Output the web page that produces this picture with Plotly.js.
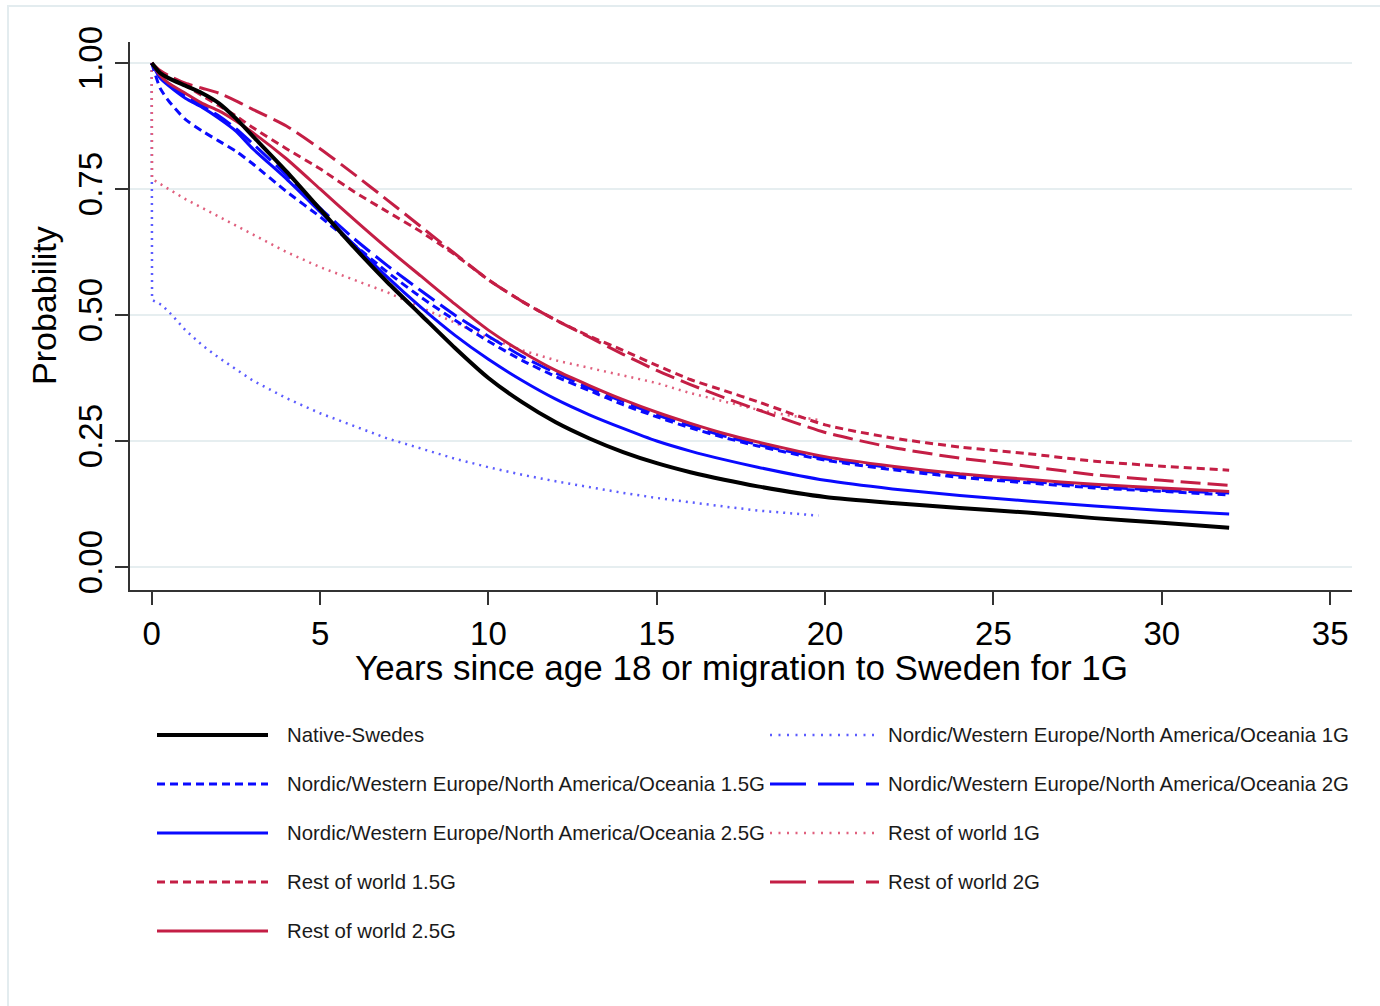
<!DOCTYPE html>
<html>
<head>
<meta charset="utf-8">
<script src="https://cdn.plot.ly/plotly-3.0.1.min.js"></script>
<style>
html,body{margin:0;padding:0;background:#fff;}
#chart{width:1380px;height:1006px;}
</style>
</head>
<body>
<div id="chart"></div>
<script>
// ---------------- DATA ----------------
const seriesNames = [
  "Native-Swedes",
  "Nordic/Western Europe/North America/Oceania 1G",
  "Nordic/Western Europe/North America/Oceania 1.5G",
  "Nordic/Western Europe/North America/Oceania 2G",
  "Nordic/Western Europe/North America/Oceania 2.5G",
  "Rest of world 1G",
  "Rest of world 1.5G",
  "Rest of world 2G",
  "Rest of world 2.5G"
];

const years = [0,0.25,0.5,1,1.5,2,2.5,3,4,5,6,7,8,9,10,11,12,13,14,15,16,17,18,20,22,24,26,28,30,32];

const nativeSwedes = [1.0,0.98,0.97,0.955,0.94,0.92,0.89,0.855,0.785,0.71,0.635,0.565,0.5,0.435,0.375,0.327,0.287,0.255,0.228,0.206,0.188,0.173,0.16,0.139,0.127,0.117,0.108,0.097,0.088,0.078];
const nordic15G = [1.0,0.95,0.925,0.888,0.865,0.845,0.825,0.8,0.745,0.695,0.64,0.585,0.535,0.49,0.448,0.41,0.378,0.35,0.322,0.298,0.276,0.257,0.24,0.212,0.193,0.178,0.167,0.157,0.15,0.143];
const nordic2G = [1.0,0.975,0.96,0.935,0.915,0.895,0.87,0.84,0.778,0.712,0.652,0.598,0.548,0.5,0.458,0.418,0.385,0.355,0.328,0.302,0.28,0.26,0.243,0.215,0.197,0.182,0.17,0.16,0.152,0.147];
const nordic25G = [1.0,0.97,0.955,0.93,0.912,0.89,0.865,0.83,0.77,0.705,0.64,0.575,0.515,0.46,0.412,0.37,0.333,0.302,0.275,0.25,0.23,0.213,0.198,0.172,0.155,0.142,0.131,0.121,0.112,0.105];
const rest15G = [1.0,0.98,0.97,0.955,0.935,0.915,0.895,0.872,0.83,0.79,0.745,0.705,0.665,0.62,0.57,0.527,0.49,0.458,0.43,0.4,0.372,0.35,0.328,0.282,0.256,0.238,0.225,0.21,0.2,0.192];
const rest2G = [1.0,0.985,0.975,0.96,0.95,0.94,0.925,0.908,0.875,0.83,0.78,0.728,0.675,0.622,0.57,0.527,0.49,0.456,0.422,0.39,0.362,0.336,0.312,0.267,0.237,0.216,0.2,0.183,0.172,0.162];
const rest25G = [1.0,0.975,0.96,0.94,0.92,0.905,0.885,0.862,0.81,0.75,0.69,0.632,0.577,0.522,0.47,0.427,0.39,0.36,0.332,0.307,0.285,0.265,0.248,0.219,0.2,0.185,0.174,0.164,0.157,0.15];

const years1G_nordic = [0,0.01,0.3,0.6,1,1.5,2,3,4,5,6,7,8,9,10,11,12,13,14,15,16,17,18,19,19.8];
const nordic1G = [1.0,0.53,0.52,0.5,0.47,0.44,0.415,0.37,0.335,0.305,0.28,0.255,0.235,0.215,0.198,0.183,0.17,0.158,0.147,0.137,0.128,0.12,0.112,0.106,0.102];

const years1G_rest = [0,0.01,0.5,1,2,3,4,5,6,7,8,9,10,11,12,13,14,15,16,17,18,19,19.8];
const rest1G = [1.0,0.77,0.75,0.73,0.695,0.66,0.625,0.595,0.57,0.545,0.515,0.485,0.455,0.43,0.41,0.395,0.38,0.365,0.345,0.328,0.312,0.3,0.292];

const yTickVals = [0,0.25,0.5,0.75,1];
const yTickText = ["0.00","0.25","0.50","0.75","1.00"];
const xTickVals = [0,5,10,15,20,25,30,35];
const xTitle = "Years since age 18 or migration to Sweden for 1G";
const yTitle = "Probability";

// ---------------- STYLES ----------------
const BLUE = "#0a0aff", RED = "#c41e45", BLACK = "#000000";
const BLUE_DOT = "#5c5cff", RED_DOT = "#e0607e";

const seriesX = [years, years1G_nordic, years, years, years, years1G_rest, years, years, years];
const seriesY = [nativeSwedes, nordic1G, nordic15G, nordic2G, nordic25G, rest1G, rest15G, rest2G, rest25G];
const styles = [
  {color:BLACK, width:4,   dash:"solid",     ldash:"solid",     shape:"spline"},
  {color:BLUE_DOT, width:2.5, dash:"2px,5px", ldash:"2px,6.5px", shape:"linear"},
  {color:BLUE, width:3,   dash:"8px,5px",   ldash:"8px,5px",   shape:"spline"},
  {color:BLUE, width:3,   dash:"20px,7px",  ldash:"36px,12px", shape:"spline"},
  {color:BLUE, width:3,   dash:"solid",     ldash:"solid",     shape:"spline"},
  {color:RED_DOT, width:2.5, dash:"2px,5px", ldash:"2px,6.5px", shape:"linear"},
  {color:RED, width:3,    dash:"8px,5px",   ldash:"8px,5px",   shape:"spline"},
  {color:RED, width:3,    dash:"20px,7px",  ldash:"36px,12px", shape:"spline"},
  {color:RED, width:3,    dash:"solid",     ldash:"solid",     shape:"spline"}
];

// draw order: dotted first, then others, black last
const drawOrder = [1,5,2,3,4,6,7,8,0];
const traces = drawOrder.map(i => ({
  type:"scatter", mode:"lines", name:seriesNames[i],
  x:seriesX[i], y:seriesY[i],
  line:{color:styles[i].color, width:styles[i].width, dash:styles[i].dash, shape:styles[i].shape, smoothing:0.6},
  showlegend:false, hoverinfo:"skip"
}));

// ---------------- LAYOUT ----------------
const L = 130, R = 1352, T = 42, B = 590;
const W = R - L, H = B - T;
const pxX = p => (p - L) / W;
const pxY = p => (B - p) / H;

const FONT = "Liberation Sans, Arial, Helvetica, sans-serif";

const shapes = [
  // outer graph-region frame
  {type:"rect", xref:"paper", yref:"paper", x0:pxX(8), x1:pxX(1400), y0:pxY(6), y1:pxY(1030),
   line:{color:"#e3ecef", width:2}, fillcolor:"rgba(0,0,0,0)", layer:"below"}
];
const annotations = [
  {xref:"paper", yref:"paper", x:pxX(741), y:pxY(667), text:xTitle, showarrow:false,
   xanchor:"center", yanchor:"middle", font:{family:FONT, size:35, color:"#000"}},
  {xref:"paper", yref:"paper", x:pxX(44), y:pxY(305), text:yTitle, showarrow:false, textangle:-90,
   xanchor:"center", yanchor:"middle", font:{family:FONT, size:34, color:"#000"}}
];

// custom legend, two columns, row-major
seriesNames.forEach((nm, i) => {
  const col = i % 2, row = Math.floor(i / 2);
  const yc = 735 + row * 49;
  const x0 = col === 0 ? 157 : 770;
  const x1 = col === 0 ? 268 : 879;
  const tx = col === 0 ? 285 : 886;
  shapes.push({type:"line", xref:"paper", yref:"paper", x0:pxX(x0), x1:pxX(x1), y0:pxY(yc), y1:pxY(yc),
    line:{color:styles[i].color, width:styles[i].width, dash:styles[i].ldash}});
  annotations.push({xref:"paper", yref:"paper", x:pxX(tx), y:pxY(yc), text:nm, showarrow:false,
    xanchor:"left", yanchor:"middle", font:{family:FONT, size:20.4, color:"#1a1a1a"}});
});

const layout = {
  width:1380, height:1006,
  margin:{l:L, r:1380 - R, t:T, b:1006 - B, pad:0},
  paper_bgcolor:"#ffffff", plot_bgcolor:"#ffffff",
  font:{family:FONT, color:"#000"},
  showlegend:false,
  xaxis:{
    range:[(L - 151.7) / 33.67, (R - 151.7) / 33.67],
    tickmode:"array", tickvals:xTickVals,
    ticks:"outside", ticklen:13, tickwidth:2, tickcolor:"#333",
    showline:true, linecolor:"#333", linewidth:2,
    showgrid:false, zeroline:false,
    tickfont:{family:FONT, size:33, color:"#000"}
  },
  yaxis:{
    range:[-23 / 504.3, 1 + 21 / 504.3],
    tickmode:"array", tickvals:yTickVals, ticktext:yTickText, tickangle:-90,
    ticks:"outside", ticklen:13, tickwidth:2, tickcolor:"#333",
    showline:true, linecolor:"#333", linewidth:2,
    showgrid:true, gridcolor:"#e6eef0", gridwidth:2,
    zeroline:false,
    tickfont:{family:FONT, size:33, color:"#000"}
  },
  shapes:shapes,
  annotations:annotations
};

Plotly.newPlot("chart", traces, layout, {staticPlot:true, displayModeBar:false});
</script>
</body>
</html>
